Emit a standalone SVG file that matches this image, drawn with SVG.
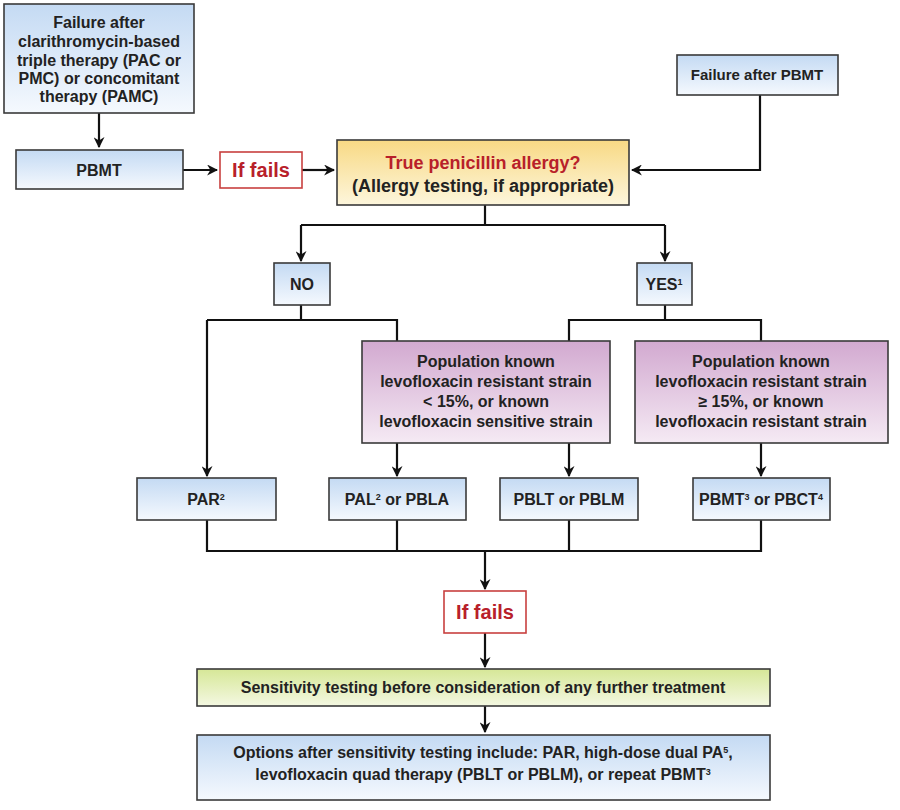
<svg xmlns="http://www.w3.org/2000/svg" width="900" height="810" viewBox="0 0 900 810">
<defs>
<linearGradient id="gBlue" x1="0" y1="0" x2="0" y2="1"><stop offset="0" stop-color="#c4daf3"/><stop offset="1" stop-color="#f5f9fe"/></linearGradient>
<linearGradient id="gYellow" x1="0" y1="0" x2="0" y2="1"><stop offset="0" stop-color="#f8d984"/><stop offset="1" stop-color="#fdf6dc"/></linearGradient>
<linearGradient id="gPurple" x1="0" y1="0" x2="0" y2="1"><stop offset="0" stop-color="#d2a9d0"/><stop offset="1" stop-color="#f5eaf4"/></linearGradient>
<linearGradient id="gGreen" x1="0" y1="0" x2="0" y2="1"><stop offset="0" stop-color="#d6e797"/><stop offset="1" stop-color="#f4f8e2"/></linearGradient>
<marker id="arr" viewBox="0 0 10 10" refX="9" refY="5" markerWidth="5" markerHeight="5" orient="auto" markerUnits="strokeWidth">
<path d="M0,0 L10,5 L0,10 L3,5 z" fill="#111"/>
</marker>
</defs>
<style>
.box{stroke:#3a3a3a;stroke-width:1.6}
.blue{fill:url(#gBlue)}
.yellow{fill:url(#gYellow)}
.purple{fill:url(#gPurple)}
.green{fill:url(#gGreen)}
.red{fill:#fff;stroke:#c8403f;stroke-width:1.6}
.t{font-family:"Liberation Sans",Arial,sans-serif;font-weight:bold;font-size:16px;fill:#222;text-anchor:middle}
.big{font-size:18px}
.rt{font-family:"Liberation Sans",Arial,sans-serif;font-weight:bold;font-size:20px;fill:#b8202a;text-anchor:middle}
.sup{font-size:9px}
.ln{fill:none;stroke:#111;stroke-width:2.2}
.ar{fill:none;stroke:#111;stroke-width:2.2;marker-end:url(#arr)}
</style>
<rect width="900" height="810" fill="#fff"/>

<g id="connectors">
<path class="ar" d="M99,113 V147"/>
<path class="ar" d="M183,170 H217"/>
<path class="ar" d="M302,170 H334"/>
<path class="ar" d="M760,95 V170 H632"/>
<path class="ln" d="M485,205 V225"/>
<path class="ln" d="M301,225 H665"/>
<path class="ar" d="M301,225 V261"/>
<path class="ar" d="M665,225 V261"/>
<path class="ln" d="M301,305 V320"/>
<path class="ln" d="M207,320 H397 V341"/>
<path class="ar" d="M207,320 V476"/>
<path class="ln" d="M665,305 V320"/>
<path class="ln" d="M569,341 V320 H761 V341"/>
<path class="ar" d="M397,443 V476"/>
<path class="ar" d="M569,443 V476"/>
<path class="ar" d="M761,443 V476"/>
<path class="ln" d="M207,520 V551 H761 V520"/>
<path class="ln" d="M397,520 V551"/>
<path class="ln" d="M569,520 V551"/>
<path class="ar" d="M485,551 V589"/>
<path class="ar" d="M485,633 V667"/>
<path class="ar" d="M485,706 V732"/>
</g>

<g id="n_fail_clari">
<rect class="box blue" x="4" y="4" width="190" height="109"/>
<text class="t" x="99" y="28">Failure after</text>
<text class="t" x="99" y="47">clarithromycin-based</text>
<text class="t" x="99" y="66">triple therapy (PAC or</text>
<text class="t" x="99" y="84">PMC) or concomitant</text>
<text class="t" x="99" y="102">therapy (PAMC)</text>
</g>

<g id="n_pbmt">
<rect class="box blue" x="16" y="150" width="167" height="39"/>
<text class="t" x="99" y="176">PBMT</text>
</g>

<g id="n_iffails1">
<rect class="red" x="220" y="152" width="82" height="36"/>
<text class="rt" x="261" y="177">If fails</text>
</g>

<g id="n_fail_pbmt">
<rect class="box blue" x="677" y="55" width="161" height="40"/>
<text class="t" x="757" y="80" style="font-size:15px">Failure after PBMT</text>
</g>

<g id="n_allergy">
<rect class="box yellow" x="337" y="140" width="292" height="65"/>
<text class="t big" x="483" y="169" style="fill:#b8202a">True penicillin allergy?</text>
<text class="t big" x="483" y="192">(Allergy testing, if appropriate)</text>
</g>

<g id="n_no">
<rect class="box blue" x="274" y="263" width="56" height="42"/>
<text class="t" x="302" y="290">NO</text>
</g>

<g id="n_yes">
<rect class="box blue" x="637" y="263" width="55" height="42"/>
<text class="t" x="664" y="290">YES<tspan class="sup" baseline-shift="super">1</tspan></text>
</g>

<g id="n_pop_low">
<rect class="box purple" x="362" y="341" width="248" height="102"/>
<text class="t" x="486" y="367">Population known</text>
<text class="t" x="486" y="387">levofloxacin resistant strain</text>
<text class="t" x="486" y="407">&lt; 15%, or known</text>
<text class="t" x="486" y="427">levofloxacin sensitive strain</text>
</g>

<g id="n_pop_high">
<rect class="box purple" x="635" y="341" width="253" height="102"/>
<text class="t" x="761" y="367">Population known</text>
<text class="t" x="761" y="387">levofloxacin resistant strain</text>
<text class="t" x="761" y="407">≥ 15%, or known</text>
<text class="t" x="761" y="427">levofloxacin resistant strain</text>
</g>

<g id="n_par">
<rect class="box blue" x="137" y="478" width="139" height="42"/>
<text class="t" x="206" y="505">PAR<tspan class="sup" baseline-shift="super">2</tspan></text>
</g>

<g id="n_pal">
<rect class="box blue" x="329" y="478" width="137" height="42"/>
<text class="t" x="397" y="505">PAL<tspan class="sup" baseline-shift="super">2</tspan> or PBLA</text>
</g>

<g id="n_pblt">
<rect class="box blue" x="500" y="478" width="138" height="42"/>
<text class="t" x="569" y="505">PBLT or PBLM</text>
</g>

<g id="n_pbmt2">
<rect class="box blue" x="693" y="478" width="137" height="42"/>
<text class="t" x="761" y="505">PBMT<tspan class="sup" baseline-shift="super">3</tspan> or PBCT<tspan class="sup" baseline-shift="super">4</tspan></text>
</g>

<g id="n_iffails2">
<rect class="red" x="444" y="591" width="82" height="42"/>
<text class="rt" x="485" y="619">If fails</text>
</g>

<g id="n_sens">
<rect class="box green" x="197" y="669" width="573" height="37"/>
<text class="t" x="483" y="693">Sensitivity testing before consideration of any further treatment</text>
</g>

<g id="n_options">
<rect class="box blue" x="197" y="735" width="573" height="65"/>
<text class="t" x="483" y="758">Options after sensitivity testing include: PAR, high-dose dual PA<tspan class="sup" baseline-shift="super">5</tspan>,</text>
<text class="t" x="483" y="780">levofloxacin quad therapy (PBLT or PBLM), or repeat PBMT<tspan class="sup" baseline-shift="super">3</tspan></text>
</g>
</svg>
